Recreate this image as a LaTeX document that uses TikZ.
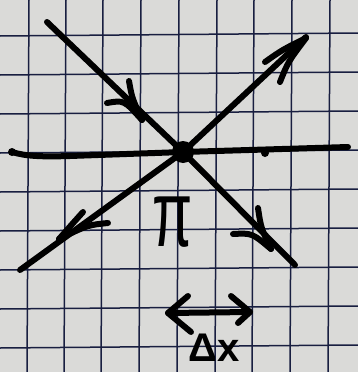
\documentclass[tikz,border=0pt]{standalone}
\usepackage{fontspec}
\newfontfamily\hand{Liberation Sans}
\definecolor{paper}{RGB}{218,218,216}
\definecolor{gridc}{RGB}{24,30,64}
\begin{document}
\begin{tikzpicture}[x=1pt,y=-1pt,
  ink/.style={line width=6pt,line cap=round,line join=round,black},
  head/.style={line width=6pt,line cap=round,line join=round,black},
  gridline/.style={line width=1.5pt,gridc}]
\fill[paper] (0,0) rectangle (358,372);
\useasboundingbox (0,0) rectangle (358,372);
% grid
\foreach \x in {29,66,103,141,179,217,254,292,330}
  \draw[gridline] (\x,0) -- (\x-2,372);
\foreach \y in {35,74,113,152,191,230,269,308,347}
  \draw[gridline] (0,\y+1) -- (358,\y-2);
% points
\coordinate (c) at (183,152);
\coordinate (hl) at (12,152);
\coordinate (hr) at (348,147);
\coordinate (tl) at (47,22);
\coordinate (br) at (295,265);
\coordinate (bl) at (20,270);
\coordinate (tr) at (306,37);
% horizontal line
\draw[ink] (hl) .. controls (25,156) and (40,157) .. (70,156) -- (c) -- (hr);
\fill (hl) circle (4pt);
\fill (265,153) circle (4pt);
% diagonals
\draw[ink] (tl) -- (c) -- (br);
\draw[ink] (bl) -- (c) -- (tr);
\fill (c) circle (11pt);
% arrowheads
\coordinate (a1) at (142,120);
\draw[head] (129,81) .. controls (132,98) .. (a1);
\draw[head] (107,103) .. controls (124,100) .. (a1);
\coordinate (a2) at (271,249);
\draw[head] (258,208) .. controls (261,228) .. (a2);
\draw[head] (233,234) .. controls (252,233) .. (a2);
\coordinate (a3) at (306,38);
\draw[head] (265,62) .. controls (282,50) .. (a3);
\draw[head] (280,82) .. controls (288,62) .. (a3);
\coordinate (a4) at (59,239);
\draw[head] (83,212) .. controls (74,222) .. (a4);
\draw[head] (108,223) .. controls (88,225) .. (a4);
% pi
\node (pi) at (173,222) {\scalebox{0.62}[1]{\hand\fontsize{94}{94}\selectfont π}};
% Delta x arrow
\coordinate (dl) at (168,313);
\coordinate (dr) at (250,312);
\draw[ink] (dl) -- (dr);
\draw[head] (188,296) -- (dl) -- (191,332);
\draw[head] (231,296) -- (dr) -- (238,323);
\node[inner sep=0pt,anchor=base] (dx) at (214,361) {\hand\bfseries\fontsize{40}{40}\selectfont Δx};
\end{tikzpicture}
\end{document}
